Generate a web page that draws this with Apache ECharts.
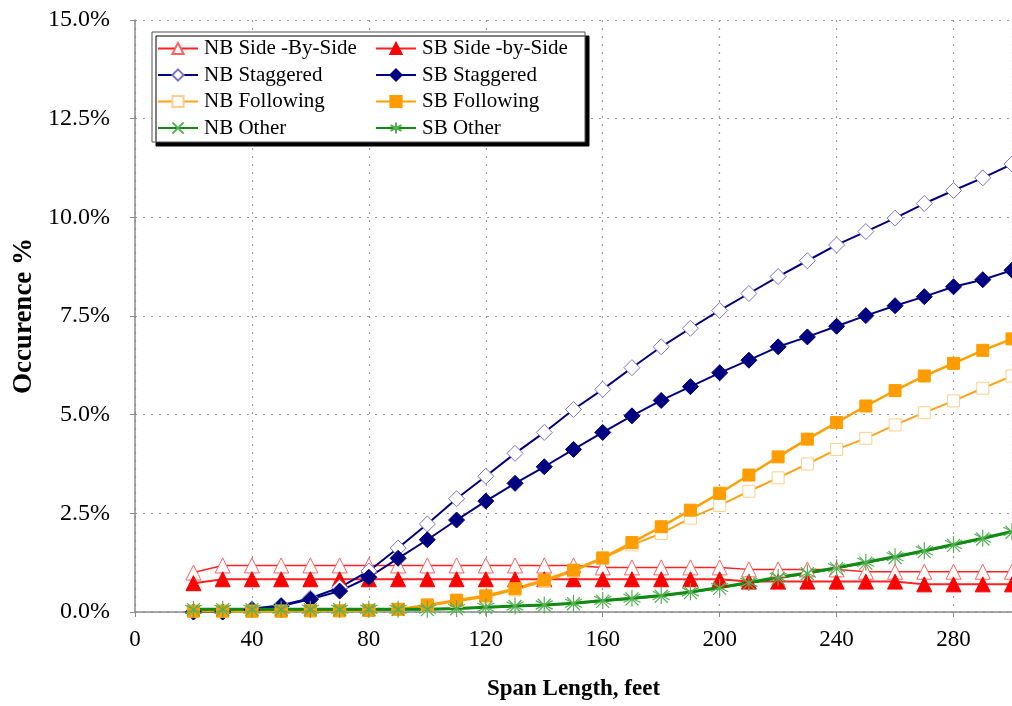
<!DOCTYPE html>
<html><head><meta charset="utf-8">
<script src="https://cdn.jsdelivr.net/npm/echarts@6/dist/echarts.min.js"></script>
<style>html,body{margin:0;padding:0;background:#fff}#c{width:1012px;height:706px}</style>
</head><body><div id="c"></div>
<script>
const spans = [20,30,40,50,60,70,80,90,100,110,120,130,140,150,160,170,180,190,200,210,220,230,240,250,260,270,280,290,300];
const nbSide = [1.0,1.18,1.18,1.18,1.18,1.18,1.18,1.18,1.18,1.18,1.18,1.18,1.18,1.18,1.13,1.13,1.13,1.13,1.13,1.08,1.08,1.08,1.08,1.02,1.02,1.02,1.02,1.02,1.02];
const sbSide = [0.73,0.83,0.83,0.83,0.83,0.83,0.83,0.83,0.83,0.83,0.83,0.83,0.83,0.83,0.83,0.83,0.83,0.83,0.83,0.77,0.77,0.77,0.77,0.77,0.77,0.70,0.70,0.70,0.70];
const nbStag = [0,0,0.08,0.17,0.35,0.62,1.04,1.62,2.23,2.87,3.44,4.02,4.55,5.13,5.64,6.19,6.72,7.19,7.64,8.07,8.5,8.9,9.3,9.64,9.98,10.35,10.68,11.0,11.35];
const sbStag = [0,0,0.06,0.15,0.32,0.53,0.88,1.36,1.83,2.33,2.81,3.26,3.68,4.12,4.55,4.97,5.36,5.71,6.06,6.38,6.72,6.97,7.24,7.51,7.76,7.99,8.24,8.42,8.66];
const nbFollow = [0.02,0.02,0.02,0.02,0.03,0.03,0.04,0.06,0.15,0.27,0.38,0.56,0.78,1.03,1.36,1.70,1.99,2.38,2.70,3.06,3.40,3.75,4.12,4.40,4.74,5.05,5.35,5.67,5.98];
const sbFollow = [0.02,0.02,0.02,0.02,0.03,0.03,0.04,0.07,0.18,0.30,0.41,0.59,0.81,1.06,1.37,1.76,2.16,2.58,3.01,3.47,3.93,4.38,4.80,5.22,5.61,5.98,6.30,6.63,6.92];
const nbOther = [0.06,0.06,0.06,0.06,0.06,0.06,0.06,0.06,0.06,0.08,0.11,0.14,0.17,0.21,0.27,0.33,0.40,0.49,0.60,0.72,0.85,0.97,1.10,1.24,1.38,1.53,1.69,1.85,2.02];
const sbOther = [0.07,0.07,0.07,0.07,0.07,0.07,0.07,0.07,0.07,0.09,0.12,0.15,0.18,0.22,0.29,0.35,0.42,0.51,0.62,0.75,0.88,0.99,1.12,1.26,1.40,1.55,1.71,1.87,2.04];
const yTicks = [0,2.5,5,7.5,10,12.5,15];
const names = ['NB Side -By-Side','SB Side -by-Side','NB Staggered','SB Staggered','NB Following','SB Following','NB Other','SB Other'];

const pairs = arr => spans.map((x,i)=>[x,arr[i]]);
const FONT = 'Liberation Serif';
const xPath = 'path://M0,0L10,10M10,0L0,10';
const astPath = 'path://M5,0L5,10M0.7,2.5L9.3,7.5M0.7,7.5L9.3,2.5';

function mk(name, data, o){
  return Object.assign({
    name, type:'line', data: pairs(data), clip:false,
    animation:false, z: 2
  }, o);
}
const series = [
  mk(names[0], nbSide, {symbol:'triangle', symbolSize:15, lineStyle:{color:'#ff2020',width:1.5},
     itemStyle:{color:'#ffffff',borderColor:'#ff6060',borderWidth:1}}),
  mk(names[1], sbSide, {symbol:'triangle', symbolSize:15, lineStyle:{color:'#ff2020',width:2},
     itemStyle:{color:'#ff0000',borderColor:'#ff0000',borderWidth:1}}),
  mk(names[2], nbStag, {symbol:'diamond', symbolSize:16, lineStyle:{color:'#000080',width:2},
     itemStyle:{color:'#ffffff',borderColor:'#7a74c8',borderWidth:1}}),
  mk(names[3], sbStag, {symbol:'diamond', symbolSize:16, lineStyle:{color:'#000080',width:2},
     itemStyle:{color:'#000080',borderColor:'#000080',borderWidth:1}}),
  mk(names[4], nbFollow, {symbol:'rect', symbolSize:12, lineStyle:{color:'#ffa21a',width:2},
     itemStyle:{color:'#ffffff',borderColor:'#ffcf8a',borderWidth:1}}),
  mk(names[5], sbFollow, {symbol:'rect', symbolSize:12, lineStyle:{color:'#ffa000',width:2.5},
     itemStyle:{color:'#ff9c00',borderColor:'#ff9c00',borderWidth:1}}),
  mk(names[6], nbOther, {symbol:xPath, symbolSize:13, lineStyle:{color:'#108a10',width:1.5},
     itemStyle:{color:'none',borderColor:'#55b055',borderWidth:1.2}}),
  mk(names[7], sbOther, {symbol:astPath, symbolSize:17, lineStyle:{color:'#108a10',width:3},
     itemStyle:{color:'none',borderColor:'#55b055',borderWidth:1.2}})
];

const chart = echarts.init(document.getElementById('c'), null, {renderer:'canvas'});
const legendCommon = {
  orient:'vertical', itemWidth:40, itemHeight:14, itemGap:5.5, z:20,
  textStyle:{fontFamily:FONT, fontSize:21, color:'#000', padding:[0,0,0,1]},
  selectedMode:false
};
chart.setOption({
  animation:false,
  backgroundColor:'#ffffff',
  grid:{left:135, top:20, right:0, bottom:94, containLabel:false},
  xAxis:{
    type:'value', min:0, max:300, interval:40,
    name:'Span Length, feet', nameLocation:'middle', nameGap:66,
    nameTextStyle:{fontFamily:FONT, fontSize:23, fontWeight:'bold', color:'#000'},
    axisLine:{lineStyle:{color:'#888',width:1.5}},
    axisTick:{show:true, length:5, lineStyle:{color:'#888'}},
    axisLabel:{fontFamily:FONT, fontSize:23, color:'#000', margin:16, showMaxLabel:false,
      formatter:v=> v===300?'':String(v)},
    splitLine:{show:true, lineStyle:{color:'#9a9a9a', type:[2,6], width:1.2}}
  },
  yAxis:{
    type:'value', min:yTicks[0], max:yTicks[yTicks.length-1], interval:2.5,
    name:'Occurence %', nameLocation:'middle', nameGap:97, nameRotate:90,
    nameTextStyle:{fontFamily:FONT, fontSize:27, fontWeight:'bold', color:'#000'},
    axisLine:{show:true, lineStyle:{color:'#888',width:1.5}},
    axisTick:{show:true, length:5, lineStyle:{color:'#888'}},
    axisLabel:{fontFamily:FONT, fontSize:24, color:'#000', margin:25,
      formatter:v=> v.toFixed(1)+'%'},
    splitLine:{show:true, lineStyle:{color:'#9a9a9a', type:[2,6], width:1.2}}
  },
  graphic:[{
    type:'rect', z:10, zlevel:0,
    shape:{x:152, y:32, width:433, height:110},
    style:{fill:'#ffffff', stroke:'#555', lineWidth:1, shadowColor:'#000', shadowOffsetX:4, shadowOffsetY:4, shadowBlur:0}
  }],
  legend:[
    Object.assign({left:152, top:33, data:[names[0],names[2],names[4],names[6]]}, legendCommon),
    Object.assign({left:370, top:33, data:[names[1],names[3],names[5],names[7]]}, legendCommon)
  ],
  series
});
</script></body></html>
